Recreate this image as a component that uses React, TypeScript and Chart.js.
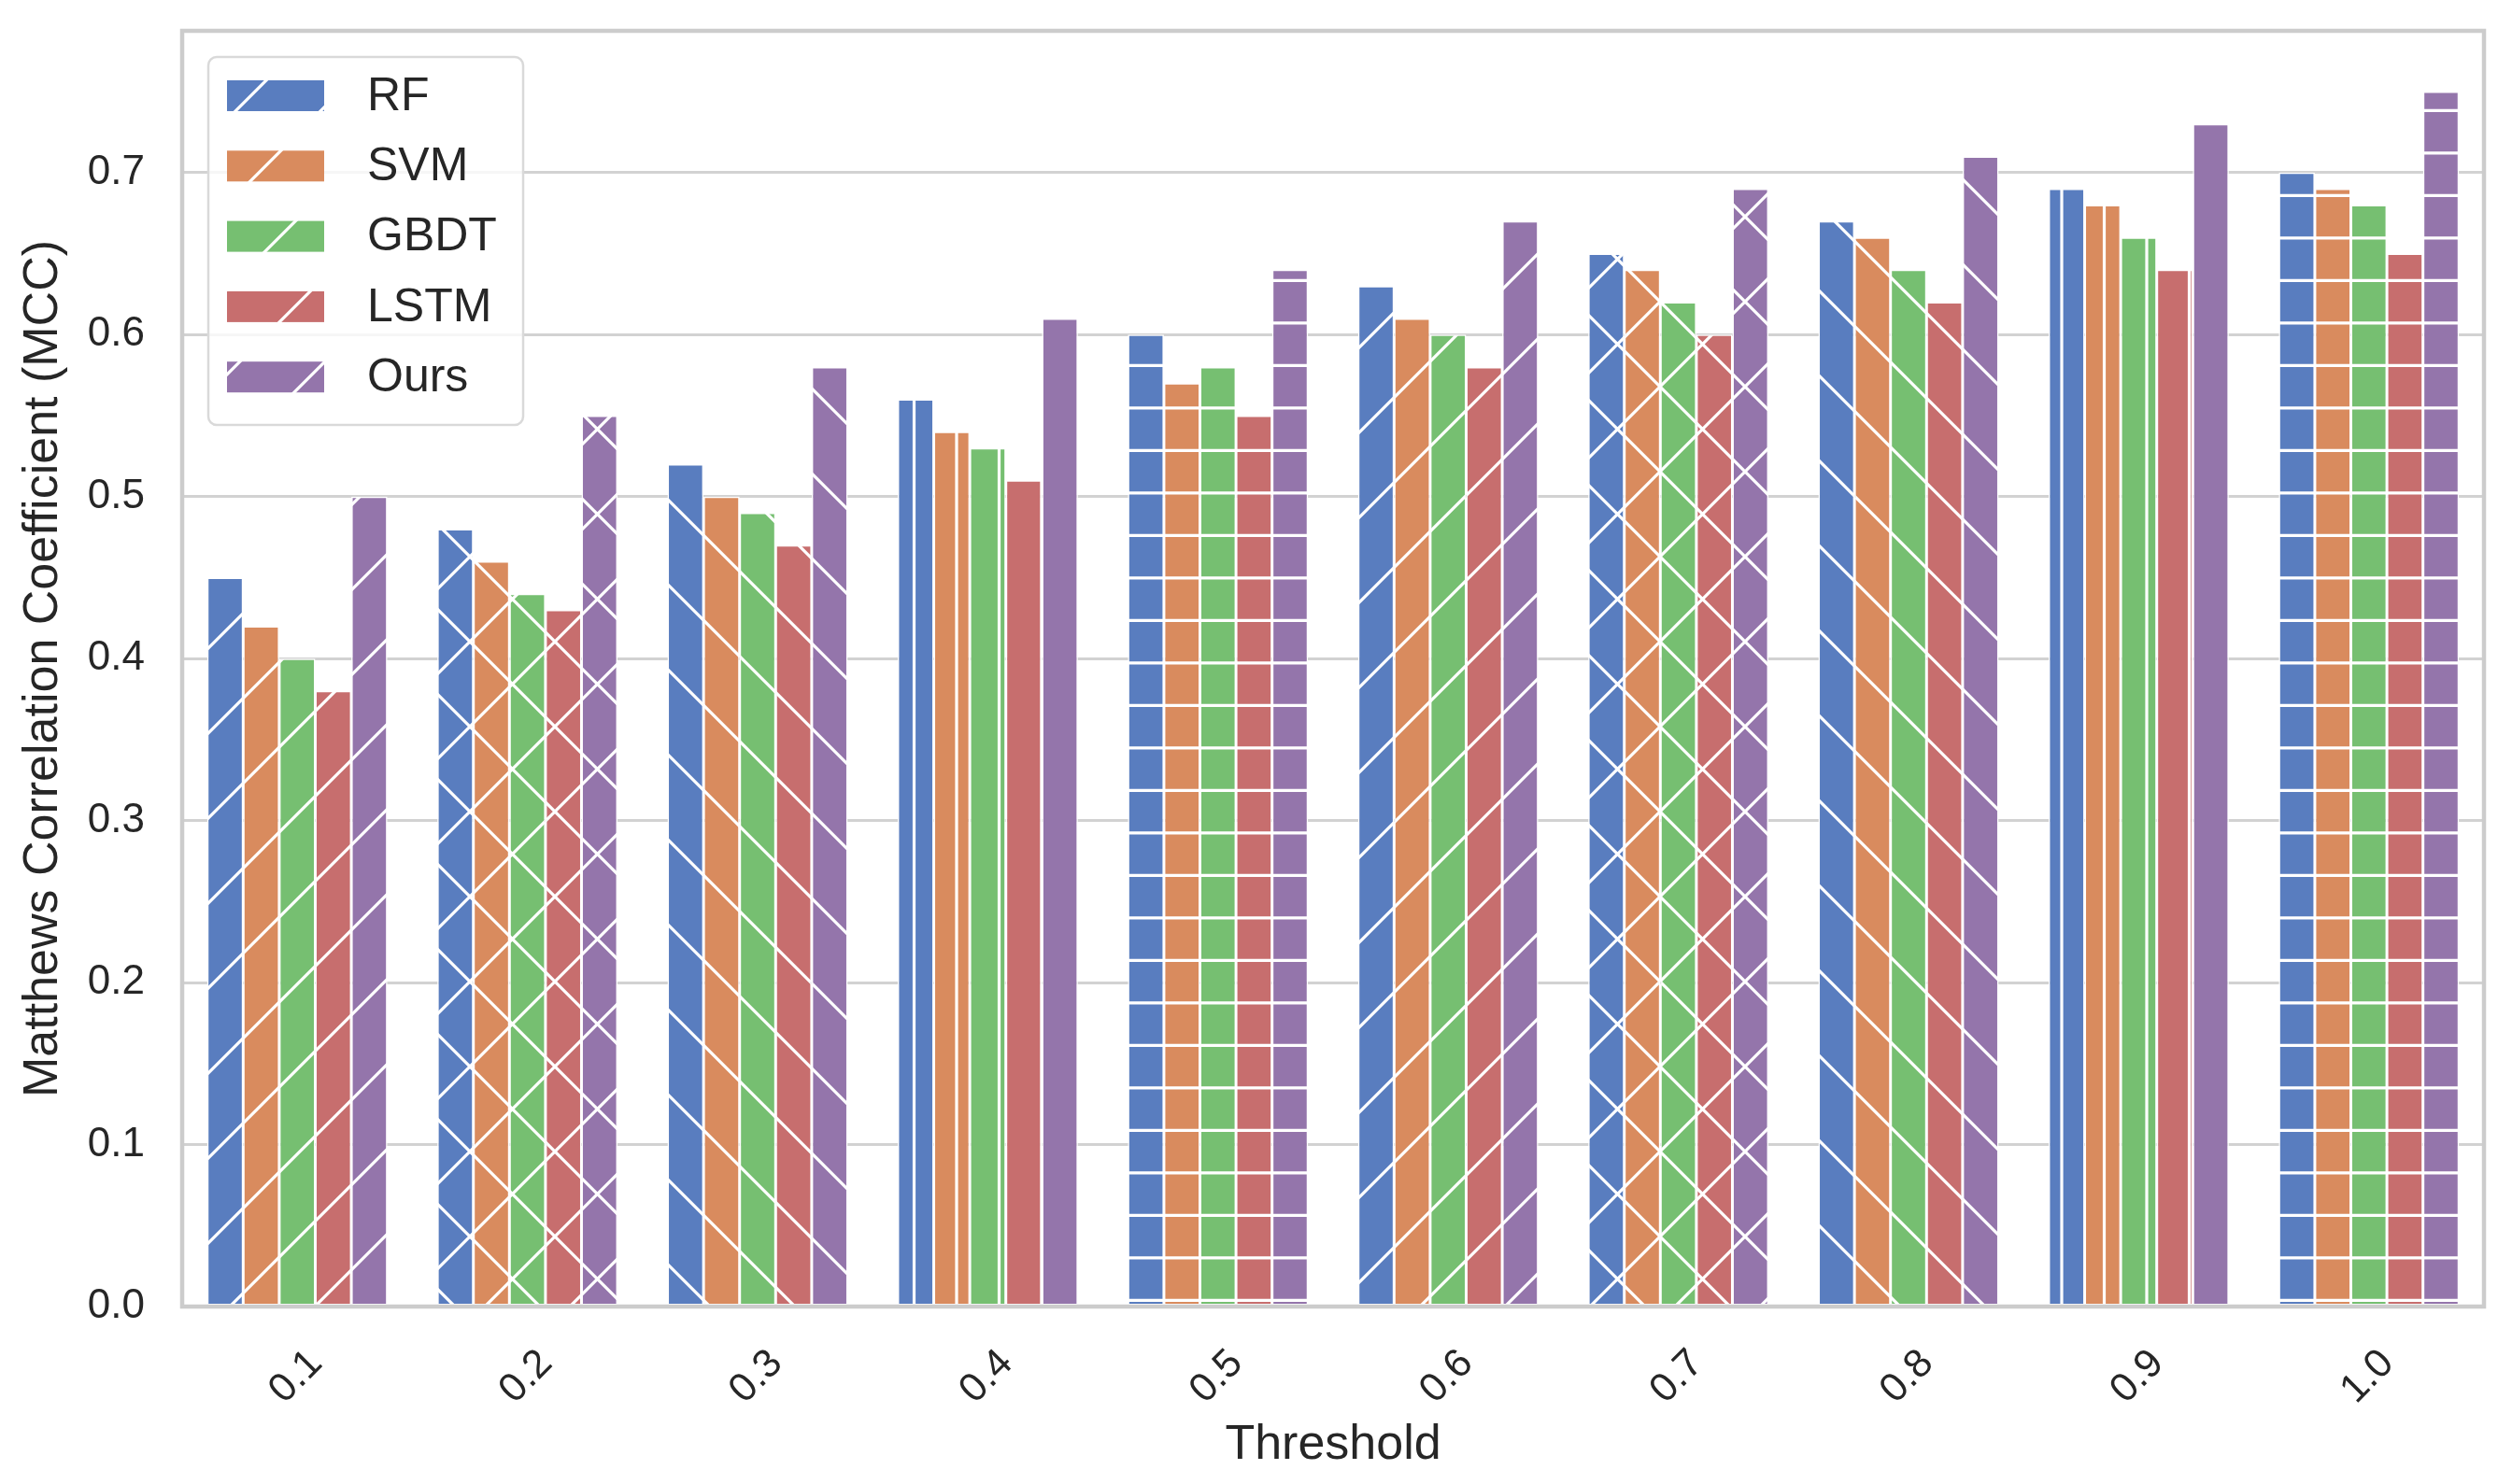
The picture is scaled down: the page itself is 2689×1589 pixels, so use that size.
import React, { useEffect, useRef } from "react";
import { Chart, registerables, type ChartConfiguration, type Plugin } from "chart.js";

Chart.register(...registerables);

// ---- data ----
const thresholds = ["0.1", "0.2", "0.3", "0.4", "0.5", "0.6", "0.7", "0.8", "0.9", "1.0"];
const seriesNames = ["RF", "SVM", "GBDT", "LSTM", "Ours"];
const rfScores = [0.45, 0.48, 0.52, 0.56, 0.6, 0.63, 0.65, 0.67, 0.69, 0.7];
const svmScores = [0.42, 0.46, 0.5, 0.54, 0.57, 0.61, 0.64, 0.66, 0.68, 0.69];
const gbdtScores = [0.4, 0.44, 0.49, 0.53, 0.58, 0.6, 0.62, 0.64, 0.66, 0.68];
const lstmScores = [0.38, 0.43, 0.47, 0.51, 0.55, 0.58, 0.6, 0.62, 0.64, 0.65];
const oursScores = [0.5, 0.55, 0.58, 0.61, 0.64, 0.67, 0.69, 0.71, 0.73, 0.75];
const yTickValues = [0, 0.1, 0.2, 0.3, 0.4, 0.5, 0.6, 0.7];
const groupHatches = ["/", "x", "\\", "|", "-", "/", "x", "\\", "|", "-"];

// seaborn "muted" at 0.75 saturation
const seriesColors = ["#597DBF", "#D98B5E", "#76BF71", "#C76E6E", "#9475AB"];
const TEXT = "#262626";
const FONT = "'Liberation Sans', Arial, sans-serif";

Chart.defaults.font.family = FONT;
Chart.defaults.color = TEXT;

// hatch tile, anchored to the canvas origin like matplotlib's figure-anchored hatches
const TILE = 91;
const makeHatch = (color: string, hatch: string): CanvasPattern | string => {
  const tile = document.createElement("canvas");
  tile.width = TILE;
  tile.height = TILE;
  const g = tile.getContext("2d");
  if (!g) return color;
  g.fillStyle = color;
  g.fillRect(0, 0, TILE, TILE);
  g.strokeStyle = "#ffffff";
  g.lineWidth = 3.2;
  g.beginPath();
  if (hatch === "/" || hatch === "x") {
    for (let k = -1; k <= 2; k++) {
      const c = 7 + k * TILE;
      g.moveTo(c + 5, -5);
      g.lineTo(c - TILE - 5, TILE + 5);
    }
  }
  if (hatch === "\\" || hatch === "x") {
    for (let k = -2; k <= 1; k++) {
      const c = 2 + k * TILE;
      g.moveTo(-5, c - 5);
      g.lineTo(TILE + 5, c + TILE + 5);
    }
  }
  if (hatch === "|") {
    for (const x of [23, 23 + TILE / 2]) {
      g.moveTo(x, -2);
      g.lineTo(x, TILE + 2);
    }
  }
  if (hatch === "-") {
    for (const y of [27.3, 27.3 + TILE / 2]) {
      g.moveTo(-2, y);
      g.lineTo(TILE + 2, y);
    }
  }
  g.stroke();
  return g.createPattern(tile, "repeat") ?? color;
};

// frame + legend drawn inside the axes, as matplotlib does
const frameAndLegend: Plugin<"bar"> = {
  id: "frameAndLegend",
  afterDatasetsDraw(chart) {
    const { ctx, chartArea: a } = chart;
    ctx.save();
    ctx.strokeStyle = "#cccccc";
    ctx.lineWidth = 4.5;
    ctx.strokeRect(a.left, a.top, a.right - a.left, a.bottom - a.top);

    const lx = a.left + 28;
    const ly = a.top + 28;
    ctx.beginPath();
    ctx.roundRect(lx, ly, 337, 394, 9);
    ctx.fillStyle = "rgba(255,255,255,0.8)";
    ctx.fill();
    ctx.strokeStyle = "#d9d9d9";
    ctx.lineWidth = 2.5;
    ctx.stroke();

    ctx.font = `50px ${FONT}`;
    ctx.textBaseline = "middle";
    ctx.textAlign = "left";
    seriesNames.forEach((name, i) => {
      const cy = ly + 42 + i * 75.3;
      ctx.fillStyle = makeHatch(seriesColors[i], "/");
      ctx.fillRect(lx + 20, cy - 17, 104, 33);
      ctx.fillStyle = TEXT;
      ctx.fillText(name, lx + 170, cy + 1);
    });
    ctx.restore();
  },
};

const MccBarChart: React.FC = () => {
  const canvasRef = useRef<HTMLCanvasElement | null>(null);
  const chartRef = useRef<Chart | null>(null);

  useEffect(() => {
    if (!canvasRef.current) return;
    const ctx = canvasRef.current.getContext("2d");
    if (!ctx) return;

    chartRef.current?.destroy();

    const allScores = [rfScores, svmScores, gbdtScores, lstmScores, oursScores];

    const config: ChartConfiguration<"bar"> = {
      type: "bar",
      data: {
        labels: thresholds,
        datasets: seriesNames.map((name, i) => ({
          label: name,
          data: allScores[i],
          backgroundColor: groupHatches.map((h) => makeHatch(seriesColors[i], h)),
          borderColor: "#ffffff",
          borderWidth: 1.5,
          borderSkipped: false,
          categoryPercentage: 0.783,
          barPercentage: 1.0,
        })),
      },
      options: {
        responsive: true,
        maintainAspectRatio: false,
        animation: false,
        layout: { padding: { top: 33, right: 30, left: 0, bottom: 0 } },
        plugins: {
          legend: { display: false },
          tooltip: { enabled: false },
        },
        scales: {
          x: {
            type: "category",
            offset: true,
            grid: { display: false },
            border: { display: false },
            ticks: {
              maxRotation: 45,
              minRotation: 45,
              padding: 28,
              labelOffset: 20,
              font: { size: 43 },
              color: TEXT,
            },
            title: {
              display: true,
              text: "Threshold",
              font: { size: 52 },
              color: TEXT,
              padding: { top: 0, bottom: 10 },
            },
            afterFit: (scale) => {
              scale.height = 190;
              scale.paddingLeft = 0;
              scale.paddingRight = 0;
            },
          },
          y: {
            min: 0,
            max: 0.7875,
            grid: { color: "#d2d2d2", lineWidth: 3, drawTicks: false },
            border: { display: false },
            afterBuildTicks: (scale) => {
              scale.ticks = yTickValues.map((value) => ({ value }));
            },
            ticks: {
              padding: 40,
              font: { size: 44 },
              color: TEXT,
              callback: (v) => Number(v).toFixed(1),
            },
            title: {
              display: true,
              text: "Matthews Correlation Coefficient (MCC)",
              font: { size: 52 },
              color: TEXT,
              padding: { top: 15, bottom: 0 },
            },
            afterFit: (scale) => {
              scale.width = 195;
              scale.paddingTop = 0;
              scale.paddingBottom = 0;
            },
          },
        },
      },
      plugins: [frameAndLegend],
    };

    chartRef.current = new Chart(ctx, config);
    return () => chartRef.current?.destroy();
  }, []);

  return (
    <div style={styles.wrapper}>
      <canvas ref={canvasRef} />
    </div>
  );
};

const App: React.FC = () => <MccBarChart />;

const styles = {
  wrapper: { position: "fixed", left: 0, top: 0, width: "2689px", height: "1589px", background: "#ffffff" } as React.CSSProperties,
};

export default App;
